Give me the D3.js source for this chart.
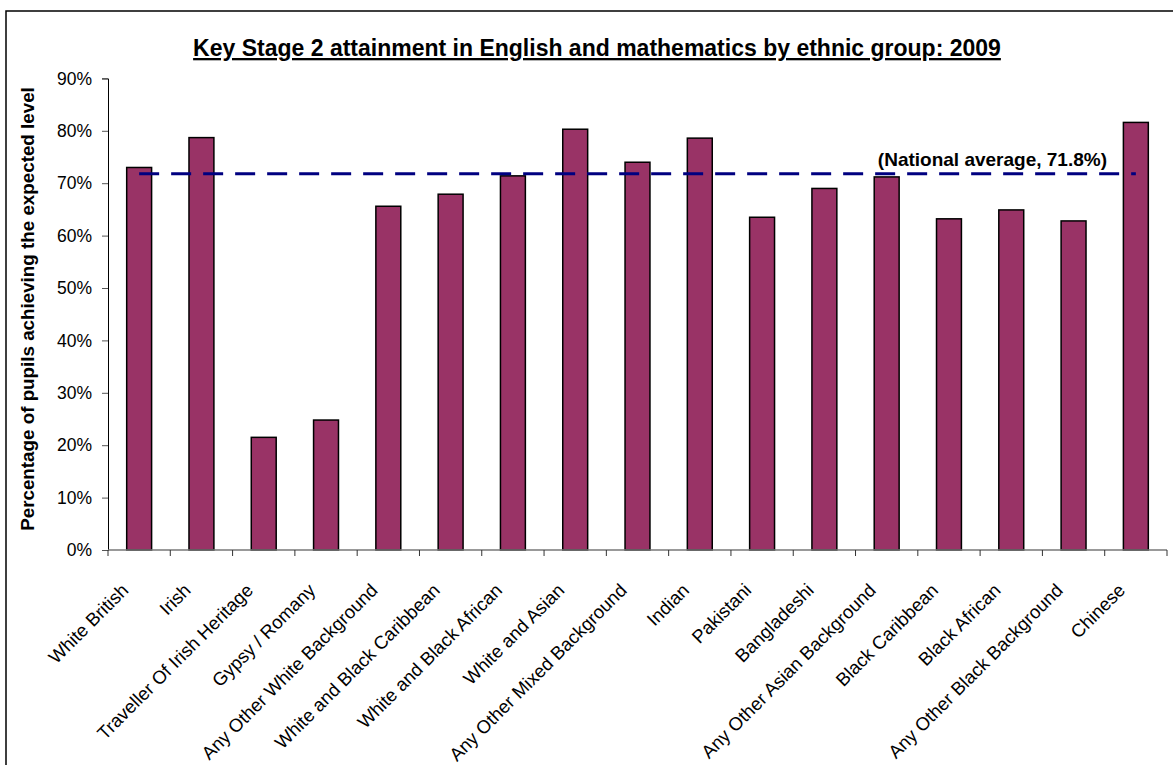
<!DOCTYPE html>
<html>
<head>
<meta charset="utf-8">
<title>KS2 attainment by ethnic group</title>
<script src="https://d3js.org/d3.v7.min.js"></script>
<style>
  body { margin: 0; background: #fff; }
  text { font-family: 'Liberation Sans', Arial, sans-serif; fill: #000; }
</style>
</head>
<body>
<div id="chart"></div>
<script>
var categories = ['White British', 'Irish', 'Traveller Of Irish Heritage', 'Gypsy / Romany',
  'Any Other White Background', 'White and Black Caribbean', 'White and Black African',
  'White and Asian', 'Any Other Mixed Background', 'Indian', 'Pakistani', 'Bangladeshi',
  'Any Other Asian Background', 'Black Caribbean', 'Black African', 'Any Other Black Background', 'Chinese'];
var values = [0.730, 0.787, 0.215, 0.248, 0.656, 0.679, 0.714, 0.803, 0.740, 0.786,
  0.635, 0.690, 0.712, 0.632, 0.649, 0.628, 0.816];
var yTicks = [0, 0.1, 0.2, 0.3, 0.4, 0.5, 0.6, 0.7, 0.8, 0.9];
var nationalAverage = 0.718;

var width = 1173, height = 765;

var svg = d3.select('#chart').append('svg')
  .attr('width', width).attr('height', height);

// outer chart border
svg.append('rect')
  .attr('x', 6).attr('y', 11)
  .attr('width', 1200).attr('height', 800)
  .style('fill', 'none').style('stroke', '#000').style('stroke-width', 1.5);

var x = d3.scaleBand().domain(categories).range([108, 1167]).paddingInner(0.6).paddingOuter(0.3);
var y = d3.scaleLinear().domain([0, 0.9]).range([550, 78.4]);

// title
svg.append('text')
  .attr('x', 597).attr('y', 56)
  .attr('text-anchor', 'middle')
  .style('font-size', '23px').style('font-weight', 'bold')
  .style('text-decoration', 'underline')
  .text('Key Stage 2 attainment in English and mathematics by ethnic group: 2009');

// bars
svg.selectAll('.bar').data(categories).enter().append('rect')
  .attr('class', 'bar')
  .attr('x', function(d) { return x(d); })
  .attr('y', function(d, i) { return y(values[i]); })
  .attr('width', x.bandwidth())
  .attr('height', function(d, i) { return y(0) - y(values[i]); })
  .style('fill', '#993366').style('stroke', '#000').style('stroke-width', 1.5);

// y axis
var yAxis = svg.append('g').attr('transform', 'translate(108,0)')
  .call(d3.axisLeft(y).tickValues(yTicks).tickFormat(d3.format('.0%')).tickSize(6).tickPadding(10));
yAxis.select('.domain').style('stroke', '#000');
yAxis.selectAll('line').style('stroke', '#555');
yAxis.selectAll('text').style('font-size', '17.5px').style('font-family', "'Liberation Sans', Arial, sans-serif");

// x axis: ticks between categories
var step = x.step();
var xr = x.range();
svg.append('line')
  .attr('x1', xr[0]).attr('x2', xr[1]).attr('y1', y(0)).attr('y2', y(0))
  .style('stroke', '#777').style('stroke-width', 1.5);
svg.selectAll('.xtick').data(d3.range(categories.length + 1)).enter().append('line')
  .attr('class', 'xtick')
  .attr('x1', function(k) { return xr[0] + k * step; })
  .attr('x2', function(k) { return xr[0] + k * step; })
  .attr('y1', y(0)).attr('y2', y(0) + 6)
  .style('stroke', '#333');

svg.selectAll('.xlabel').data(categories).enter().append('text')
  .attr('class', 'xlabel')
  .attr('transform', function(d) {
    return 'translate(' + (x(d) + x.bandwidth() / 2 - 19) + ',582) rotate(-45)';
  })
  .attr('dy', '0.72em')
  .attr('text-anchor', 'end')
  .style('font-size', '18.5px')
  .text(function(d) { return d; });

// y axis title
svg.append('text')
  .attr('transform', 'translate(34,309) rotate(-90)')
  .attr('text-anchor', 'middle')
  .style('font-size', '18.8px').style('font-weight', 'bold')
  .text('Percentage of pupils achieving the expected level');

// national average line
var first = categories[0], last = categories[categories.length - 1];
svg.append('line')
  .attr('x1', x(first) + x.bandwidth() / 2)
  .attr('x2', x(last) + x.bandwidth() / 2)
  .attr('y1', y(nationalAverage)).attr('y2', y(nationalAverage))
  .style('stroke', '#000080').style('stroke-width', 3)
  .style('stroke-dasharray', '20,12');

svg.append('text')
  .attr('x', 1107).attr('y', 166)
  .attr('text-anchor', 'end')
  .style('font-size', '19px').style('font-weight', 'bold')
  .text('(National average, ' + d3.format('.1%')(nationalAverage) + ')');
</script>
</body>
</html>
